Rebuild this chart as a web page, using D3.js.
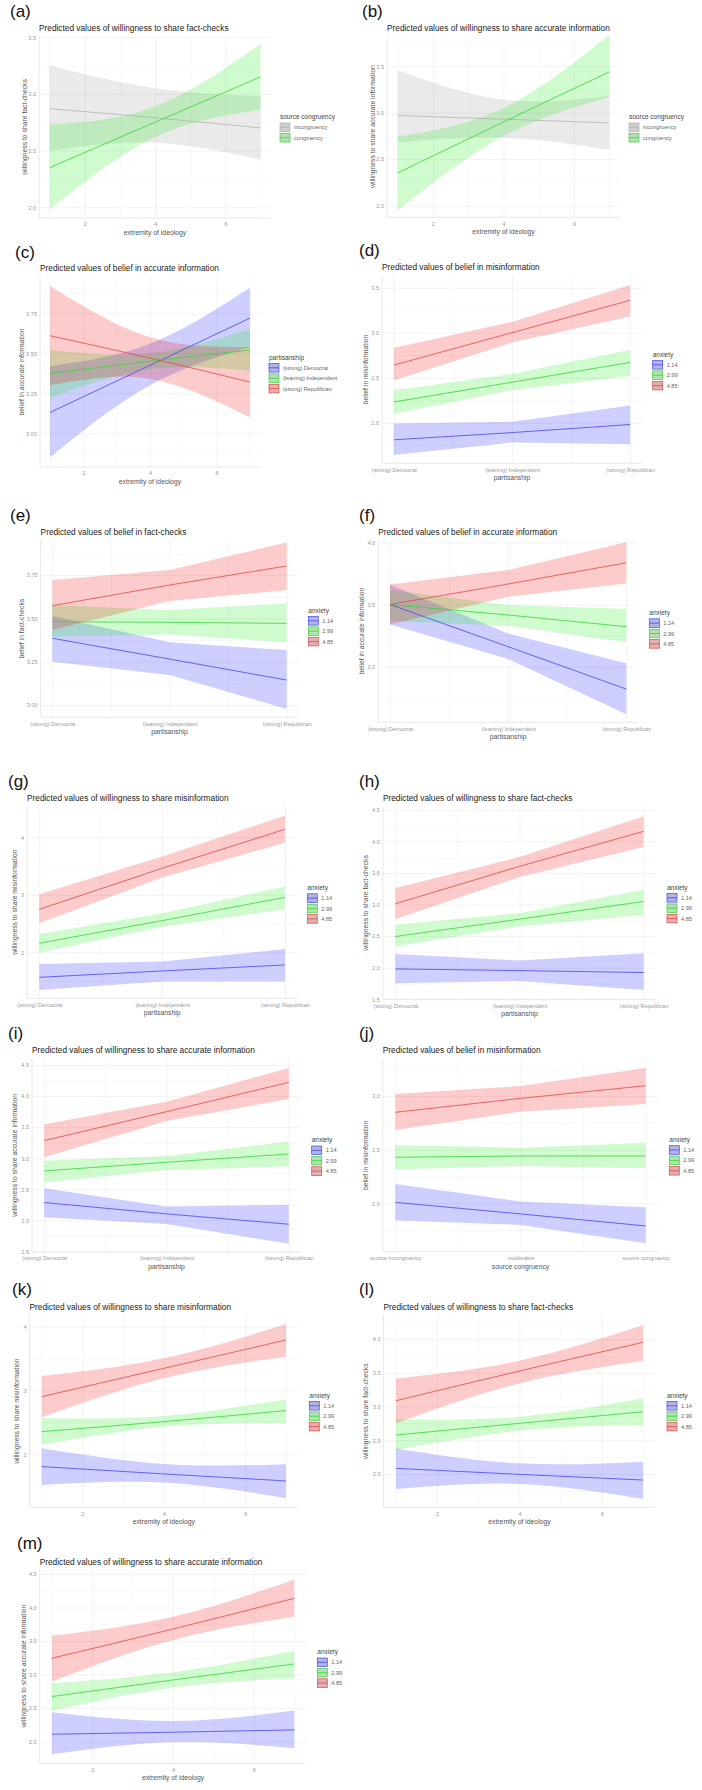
<!DOCTYPE html>
<html>
<head>
<meta charset="utf-8">
<script src="https://cdn.jsdelivr.net/npm/d3@7"></script>
<style>
  body { margin: 0; background: #fff; }
  svg { display: block; font-family: "Liberation Sans", Arial, sans-serif; }
</style>
</head>
<body>
<script>
// x values / categories
const ideology = [1, 4, 7];
const ideologyTicks = [2, 4, 6];
const catX = [0, 1, 2];
const partyCats = ["(strong) Democrat", "(leaning) Independent", "(strong) Republican"];
const sourceCats = ["source incongruency", "moderates", "source congruency"];

// legend levels
const congruencyLevels = ["incongruency", "congruency"];
const partyLevels = ["(strong) Democrat", "(leaning) Independent", "(strong) Republican"];
const anxietyLevels = ["1.14", "2.99", "4.85"];

const titles = [
  "Predicted values of willingness to share fact-checks",
  "Predicted values of willingness to share accurate information",
  "Predicted values of belief in accurate information",
  "Predicted values of belief in misinformation",
  "Predicted values of belief in fact-checks",
  "Predicted values of belief in accurate information",
  "Predicted values of willingness to share misinformation",
  "Predicted values of willingness to share fact-checks",
  "Predicted values of willingness to share accurate information",
  "Predicted values of belief in misinformation",
  "Predicted values of willingness to share misinformation",
  "Predicted values of willingness to share fact-checks",
  "Predicted values of willingness to share accurate information"
];
const yTitles = [
  "willingness to share fact-checks",
  "willingness to share accurate information",
  "belief in accurate information",
  "belief in misinformation",
  "belief in fact-checks",
  "belief in accurate information",
  "willingness to share misinformation",
  "willingness to share fact-checks",
  "willingness to share accurate information",
  "belief in misinformation",
  "willingness to share misinformation",
  "willingness to share fact-checks",
  "willingness to share accurate information"
];

// y ticks per panel
const aTicks = [2.0, 2.5, 3.0, 3.5];
const bTicks = [2.0, 2.5, 3.0, 3.5];
const cTicks = [3.00, 3.25, 3.50, 3.75];
const dTicks = [2.0, 2.5, 3.0, 3.5];
const eTicks = [3.00, 3.25, 3.50, 3.75];
const fTicks = [3.0, 3.5, 4.0];
const gTicks = [2, 3, 4];
const hTicks = [1.5, 2.0, 2.5, 3.0, 3.5, 4.0, 4.5];
const iTicks = [1.5, 2.0, 2.5, 3.0, 3.5, 4.0, 4.5];
const jTicks = [2.0, 2.5, 3.0];
const kTicks = [2, 3, 4];
const lTicks = [2.0, 2.5, 3.0, 3.5, 4.0];
const mTicks = [2.0, 2.5, 3.0, 3.5, 4.0, 4.5];

// predicted values: one row per group (fit, lower, upper)
const aFit = [[2.87, 2.79, 2.70], [2.35, 2.75, 3.15]];
const aLo  = [[2.50, 2.57, 2.42], [1.98, 2.62, 2.86]];
const aHi  = [[3.25, 3.05, 2.98], [2.73, 2.89, 3.44]];

const bFit = [[2.97, 2.93, 2.89], [2.35, 2.90, 3.44]];
const bLo  = [[2.68, 2.73, 2.60], [1.95, 2.75, 3.17]];
const bHi  = [[3.46, 3.14, 3.18], [2.74, 3.05, 3.84]];

const cFit = [[3.13, 3.425, 3.72], [3.375, 3.45, 3.52], [3.61, 3.47, 3.32]];
const cLo  = [[2.85, 3.30, 3.54], [3.22, 3.40, 3.39], [3.30, 3.34, 3.10]];
const cHi  = [[3.42, 3.56, 3.91], [3.52, 3.50, 3.65], [3.92, 3.60, 3.54]];

const dFit = [[1.81, 1.89, 1.98], [2.23, 2.45, 2.67], [2.64, 3.00, 3.36]];
const dLo  = [[1.64, 1.78, 1.76], [2.10, 2.36, 2.52], [2.47, 2.89, 3.18]];
const dHi  = [[1.99, 2.01, 2.19], [2.36, 2.54, 2.81], [2.83, 3.12, 3.53]];

const eFit = [[3.385, 3.265, 3.144], [3.481, 3.477, 3.471], [3.573, 3.692, 3.802]];
const eLo  = [[3.25, 3.173, 2.977], [3.394, 3.408, 3.362], [3.433, 3.60, 3.663]];
const eHi  = [[3.513, 3.362, 3.317], [3.577, 3.548, 3.587], [3.721, 3.779, 3.938]];

const fFit = [[3.50, 3.161, 2.82], [3.50, 3.416, 3.322], [3.501, 3.665, 3.836]];
const fLo  = [[3.34, 3.062, 2.617], [3.367, 3.33, 3.196], [3.34, 3.563, 3.67]];
const fHi  = [[3.66, 3.268, 3.027], [3.617, 3.496, 3.464], [3.662, 3.777, 4.0]];

const gFit = [[1.565, 1.675, 1.78], [2.157, 2.551, 2.957], [2.748, 3.461, 4.139]];
const gLo  = [[1.345, 1.49, 1.49], [1.994, 2.446, 2.748], [2.504, 3.299, 3.907]];
const gHi  = [[1.797, 1.838, 2.058], [2.319, 2.678, 3.142], [3.009, 3.664, 4.377]];

const hFit = [[1.981, 1.954, 1.923], [2.493, 2.768, 3.048], [3.011, 3.603, 4.157]];
const hLo  = [[1.754, 1.79, 1.648], [2.335, 2.652, 2.836], [2.768, 3.433, 3.909]];
const hHi  = [[2.218, 2.113, 2.229], [2.678, 2.863, 3.233], [3.259, 3.75, 4.395]];

const iFit = [[2.287, 2.105, 1.939], [2.796, 2.935, 3.068], [3.283, 3.748, 4.219]];
const iLo  = [[2.051, 1.944, 1.623], [2.608, 2.812, 2.865], [3.015, 3.598, 3.952]];
const iHi  = [[2.517, 2.223, 2.25], [2.961, 3.036, 3.267], [3.545, 3.909, 4.45]];

const jFit = [[2.009, 1.901, 1.789], [2.429, 2.441, 2.441], [2.848, 2.978, 3.096]];
const jLo  = [[1.839, 1.798, 1.627], [2.317, 2.348, 2.326], [2.683, 2.854, 2.925]];
const jHi  = [[2.18, 2.016, 1.963], [2.543, 2.519, 2.565], [3.019, 3.093, 3.26]];

const kFit = [[1.807, 1.692, 1.582], [2.355, 2.512, 2.684], [2.903, 3.347, 3.791]];
const kLo  = [[1.52, 1.556, 1.311], [2.146, 2.433, 2.486], [2.58, 3.19, 3.53]];
const kHi  = [[2.094, 1.849, 1.843], [2.564, 2.60, 2.862], [3.227, 3.504, 4.042]];

const lFit = [[2.084, 1.995, 1.911], [2.578, 2.751, 2.923], [3.086, 3.526, 3.951]];
const lLo  = [[1.778, 1.852, 1.63], [2.356, 2.642, 2.726], [2.751, 3.343, 3.674]];
const lHi  = [[2.38, 2.158, 2.183], [2.81, 2.849, 3.121], [3.417, 3.679, 4.207]];

const mFit = [[2.109, 2.139, 2.174], [2.671, 2.919, 3.158], [3.243, 3.68, 4.137]];
const mLo  = [[1.811, 1.99, 1.9], [2.457, 2.805, 2.944], [2.895, 3.516, 3.864]];
const mHi  = [[2.437, 2.308, 2.462], [2.87, 3.034, 3.352], [3.581, 3.864, 4.42]];

// colours
const pal3 = [
  {line: "#4646ee", band: "rgba(0,0,255,0.19)"},
  {line: "#36d436", band: "rgba(0,235,0,0.19)"},
  {line: "#e04848", band: "rgba(240,0,0,0.2)"}
];
const palCong = [{line: "#b2b2b2", band: "rgba(140,140,140,0.18)"}, pal3[1]];

const IDEO = "extremity of ideology";
// layout (pixel positions) for each panel
const panels = [
  {lab:"(a)", t:0, xt:IDEO, cats:null, levels:congruencyLevels, pal:palCong, leg:"source congruency", fit:aFit, lo:aLo, hi:aHi, yt:aTicks, fmt:".1f",
   L:39, R:271, T:36, B:218, ydom:[1.906, 3.511], labX:10, labY:17, titleY:31, ytX:25, legX:280, legY:119},
  {lab:"(b)", t:1, xt:IDEO, cats:null, levels:congruencyLevels, pal:palCong, leg:"source congruency", fit:bFit, lo:bLo, hi:bHi, yt:bTicks, fmt:".1f",
   L:387, R:620, T:36, B:217.3, ydom:[1.873, 3.826], labX:362, labY:17, titleY:31, ytX:372.7, legX:629, legY:119},
  {lab:"(c)", t:2, xt:IDEO, cats:null, levels:partyLevels, pal:pal3, leg:"partisanship", fit:cFit, lo:cLo, hi:cHi, yt:cTicks, fmt:".2f",
   L:40, R:260, T:277, B:467, ydom:[2.789, 3.977], labX:15, labY:258, titleY:271, ytX:21.7, legX:269, legY:359.5},
  {lab:"(d)", t:3, xt:"partisanship", cats:partyCats, levels:anxietyLevels, pal:pal3, leg:"anxiety", fit:dFit, lo:dLo, hi:dHi, yt:dTicks, fmt:".1f",
   L:382, R:642, T:275.7, B:463.3, ydom:[1.549, 3.633], labX:359, labY:256, titleY:270, ytX:366, legX:652.7, legY:356.5},
  {lab:"(e)", t:4, xt:"partisanship", cats:partyCats, levels:anxietyLevels, pal:pal3, leg:"anxiety", fit:eFit, lo:eLo, hi:eHi, yt:eTicks, fmt:".2f",
   L:40.6, R:298.4, T:540, B:717.3, ydom:[2.929, 3.952], labX:10, labY:521, titleY:534.5, ytX:21.7, legX:308.3, legY:612.5},
  {lab:"(f)", t:5, xt:"partisanship", cats:partyCats, levels:anxietyLevels, pal:pal3, leg:"anxiety", fit:fFit, lo:fLo, hi:fHi, yt:fTicks, fmt:".1f",
   L:378.2, R:638.1, T:540, B:722.3, ydom:[2.553, 4.019], labX:359, labY:521, titleY:534.5, ytX:361.7, legX:649.3, legY:614.8},
  {lab:"(g)", t:6, xt:"partisanship", cats:partyCats, levels:anxietyLevels, pal:pal3, leg:"anxiety", fit:gFit, lo:gLo, hi:gHi, yt:gTicks, fmt:"d",
   L:27, R:297.3, T:806, B:998.3, ydom:[1.2, 4.544], labX:8, labY:787, titleY:800.5, ytX:15, legX:307.3, legY:889.8},
  {lab:"(h)", t:7, xt:"partisanship", cats:partyCats, levels:anxietyLevels, pal:pal3, leg:"anxiety", fit:hFit, lo:hLo, hi:hHi, yt:hTicks, fmt:".1f",
   L:382.9, R:656.1, T:806.7, B:999.3, ydom:[1.5, 4.547], labX:359, labY:787, titleY:800.5, ytX:366, legX:667, legY:889.5},
  {lab:"(i)", t:8, xt:"partisanship", cats:partyCats, levels:anxietyLevels, pal:pal3, leg:"anxiety", fit:iFit, lo:iLo, hi:iHi, yt:iTicks, fmt:".1f",
   L:32, R:301, T:1059, B:1251.7, ydom:[1.497, 4.595], labX:8, labY:1039, titleY:1053, ytX:15, legX:311.7, legY:1142},
  {lab:"(j)", t:9, xt:"source congruency", cats:sourceCats, levels:anxietyLevels, pal:pal3, leg:"anxiety", fit:jFit, lo:jLo, hi:jHi, yt:jTicks, fmt:".1f",
   L:382.8, R:658.2, T:1059, B:1251.7, ydom:[1.549, 3.345], labX:359, labY:1039, titleY:1053, ytX:366, legX:669.3, legY:1141.7},
  {lab:"(k)", t:10, xt:IDEO, cats:null, levels:anxietyLevels, pal:pal3, leg:"anxiety", fit:kFit, lo:kLo, hi:kHi, yt:kTicks, fmt:"d",
   L:29.5, R:298.2, T:1315, B:1507.3, ydom:[1.169, 4.183], labX:12, labY:1295, titleY:1310, ytX:17, legX:309.3, legY:1397.5},
  {lab:"(l)", t:11, xt:IDEO, cats:null, levels:anxietyLevels, pal:pal3, leg:"anxiety", fit:lFit, lo:lLo, hi:lHi, yt:lTicks, fmt:".1f",
   L:383.5, R:655.4, T:1315, B:1507.3, ydom:[1.507, 4.356], labX:359, labY:1295, titleY:1310, ytX:366, legX:667, legY:1397.5},
  {lab:"(m)", t:12, xt:IDEO, cats:null, levels:anxietyLevels, pal:pal3, leg:"anxiety", fit:mFit, lo:mLo, hi:mHi, yt:mTicks, fmt:".1f",
   L:39.7, R:306.4, T:1569, B:1763.3, ydom:[1.675, 4.575], labX:17, labY:1549, titleY:1565, ytX:24, legX:317.3, legY:1654}
];

const svg = d3.select("body").append("svg").attr("width", 702).attr("height", 1790);

function gridAxis(g, axis, color) {
  g.call(axis);
  g.select(".domain").remove();
  g.selectAll("text").remove();
  g.selectAll("line").attr("stroke", color).attr("stroke-width", 0.6);
}

panels.forEach((p, idx) => {
  const g = svg.append("g");
  const xdom = p.cats ? [-0.1, 2.1] : [0.7, 7.3];
  const x = d3.scaleLinear().domain(xdom).range([p.L, p.R]);
  const y = d3.scaleLinear().domain(p.ydom).range([p.B, p.T]);
  const xMajor = p.cats ? catX : ideologyTicks;
  const xMinor = p.cats ? [0.5, 1.5] : [1, 3, 5, 7];
  const step = p.yt[1] - p.yt[0];
  const yMinor = d3.range(p.yt[0] - step / 2, p.ydom[1], step).filter(v => v > p.ydom[0]);
  const W = p.R - p.L, H = p.B - p.T;

  // grid lines
  gridAxis(g.append("g").attr("transform", `translate(${p.L},0)`),
    d3.axisLeft(y).tickValues(yMinor).tickSize(-W), "#f4f4f4");
  gridAxis(g.append("g").attr("transform", `translate(0,${p.B})`),
    d3.axisBottom(x).tickValues(xMinor).tickSize(-H), "#f4f4f4");
  gridAxis(g.append("g").attr("transform", `translate(${p.L},0)`),
    d3.axisLeft(y).tickValues(p.yt).tickSize(-W), "#ebebeb");
  gridAxis(g.append("g").attr("transform", `translate(0,${p.B})`),
    d3.axisBottom(x).tickValues(xMajor).tickSize(-H), "#ebebeb");

  // axis lines
  g.append("line").attr("x1", p.L).attr("x2", p.L).attr("y1", p.T).attr("y2", p.B)
    .attr("stroke", "#e2e2e2").attr("stroke-width", 0.8);
  g.append("line").attr("x1", p.L).attr("x2", p.R).attr("y1", p.B).attr("y2", p.B)
    .attr("stroke", "#e2e2e2").attr("stroke-width", 0.8);

  // tick labels
  const ya = g.append("g").attr("transform", `translate(${p.L},0)`)
    .call(d3.axisLeft(y).tickValues(p.yt).tickFormat(d3.format(p.fmt)).tickSize(0).tickPadding(3));
  ya.select(".domain").remove();
  ya.selectAll("text").attr("font-size", 5.6).attr("fill", "#9a9a9a").attr("font-family", null);

  const xa = g.append("g").attr("transform", `translate(0,${p.B})`)
    .call(d3.axisBottom(x).tickValues(xMajor).tickSize(0).tickPadding(4.5)
      .tickFormat(d => p.cats ? p.cats[d] : d));
  xa.select(".domain").remove();
  xa.selectAll("text").attr("font-size", 5.6).attr("fill", "#9a9a9a").attr("font-family", null);

  // bands and lines
  const xs = p.cats ? catX : ideology;
  const curve = p.cats ? d3.curveLinear : d3.curveNatural;
  const clipId = "clip" + idx;
  g.append("clipPath").attr("id", clipId).append("rect")
    .attr("x", p.L).attr("y", p.T).attr("width", W).attr("height", H);
  const plot = g.append("g").attr("clip-path", `url(#${clipId})`);
  const series = p.levels.map((lv, k) => xs.map((xv, j) => ({x: xv, fit: p.fit[k][j], lo: p.lo[k][j], hi: p.hi[k][j]})));
  const area = d3.area().x(d => x(d.x)).y0(d => y(d.lo)).y1(d => y(d.hi)).curve(curve);
  const line = d3.line().x(d => x(d.x)).y(d => y(d.fit)).curve(curve);
  plot.selectAll("path.band").data(series).join("path").attr("class", "band")
    .attr("d", area).attr("fill", (d, k) => p.pal[k].band);
  plot.selectAll("path.fit").data(series).join("path").attr("class", "fit")
    .attr("d", line).attr("fill", "none").attr("stroke", (d, k) => p.pal[k].line).attr("stroke-width", 0.8);

  // titles
  g.append("text").attr("x", p.labX).attr("y", p.labY).attr("font-size", 17).attr("fill", "#111").text(p.lab);
  g.append("text").attr("x", p.L).attr("y", p.titleY).attr("font-size", 8.3).attr("fill", "#222").text(titles[p.t]);
  g.append("text").attr("x", (p.L + p.R) / 2).attr("y", p.B + 17).attr("text-anchor", "middle")
    .attr("font-size", 6.8).attr("fill", "#555").text(p.xt);
  g.append("text").attr("transform", `translate(${p.ytX},${(p.T + p.B) / 2}) rotate(-90)`)
    .attr("text-anchor", "middle").attr("dy", "0.35em")
    .attr("font-size", 6.8).attr("fill", "#555").text(yTitles[p.t]);

  // legend
  const lg = g.append("g");
  lg.append("text").attr("x", p.legX).attr("y", p.legY).attr("font-size", 6.5).attr("fill", "#444").text(p.leg);
  p.levels.forEach((lv, k) => {
    const ky = p.legY + 4 + k * 10.4;
    lg.append("rect").attr("x", p.legX).attr("y", ky).attr("width", 10).attr("height", 8.6).attr("fill", "#dedede");
    lg.append("rect").attr("x", p.legX).attr("y", ky).attr("width", 10).attr("height", 8.6)
      .attr("fill", p.pal[k].band).attr("stroke", p.pal[k].line).attr("stroke-width", 0.7);
    lg.append("line").attr("x1", p.legX).attr("x2", p.legX + 10).attr("y1", ky + 4.3).attr("y2", ky + 4.3)
      .attr("stroke", p.pal[k].line).attr("stroke-width", 0.8);
    lg.append("text").attr("x", p.legX + 14).attr("y", ky + 6.3).attr("font-size", 5.6).attr("fill", "#666").text(lv);
  });
});
</script>
</body>
</html>
